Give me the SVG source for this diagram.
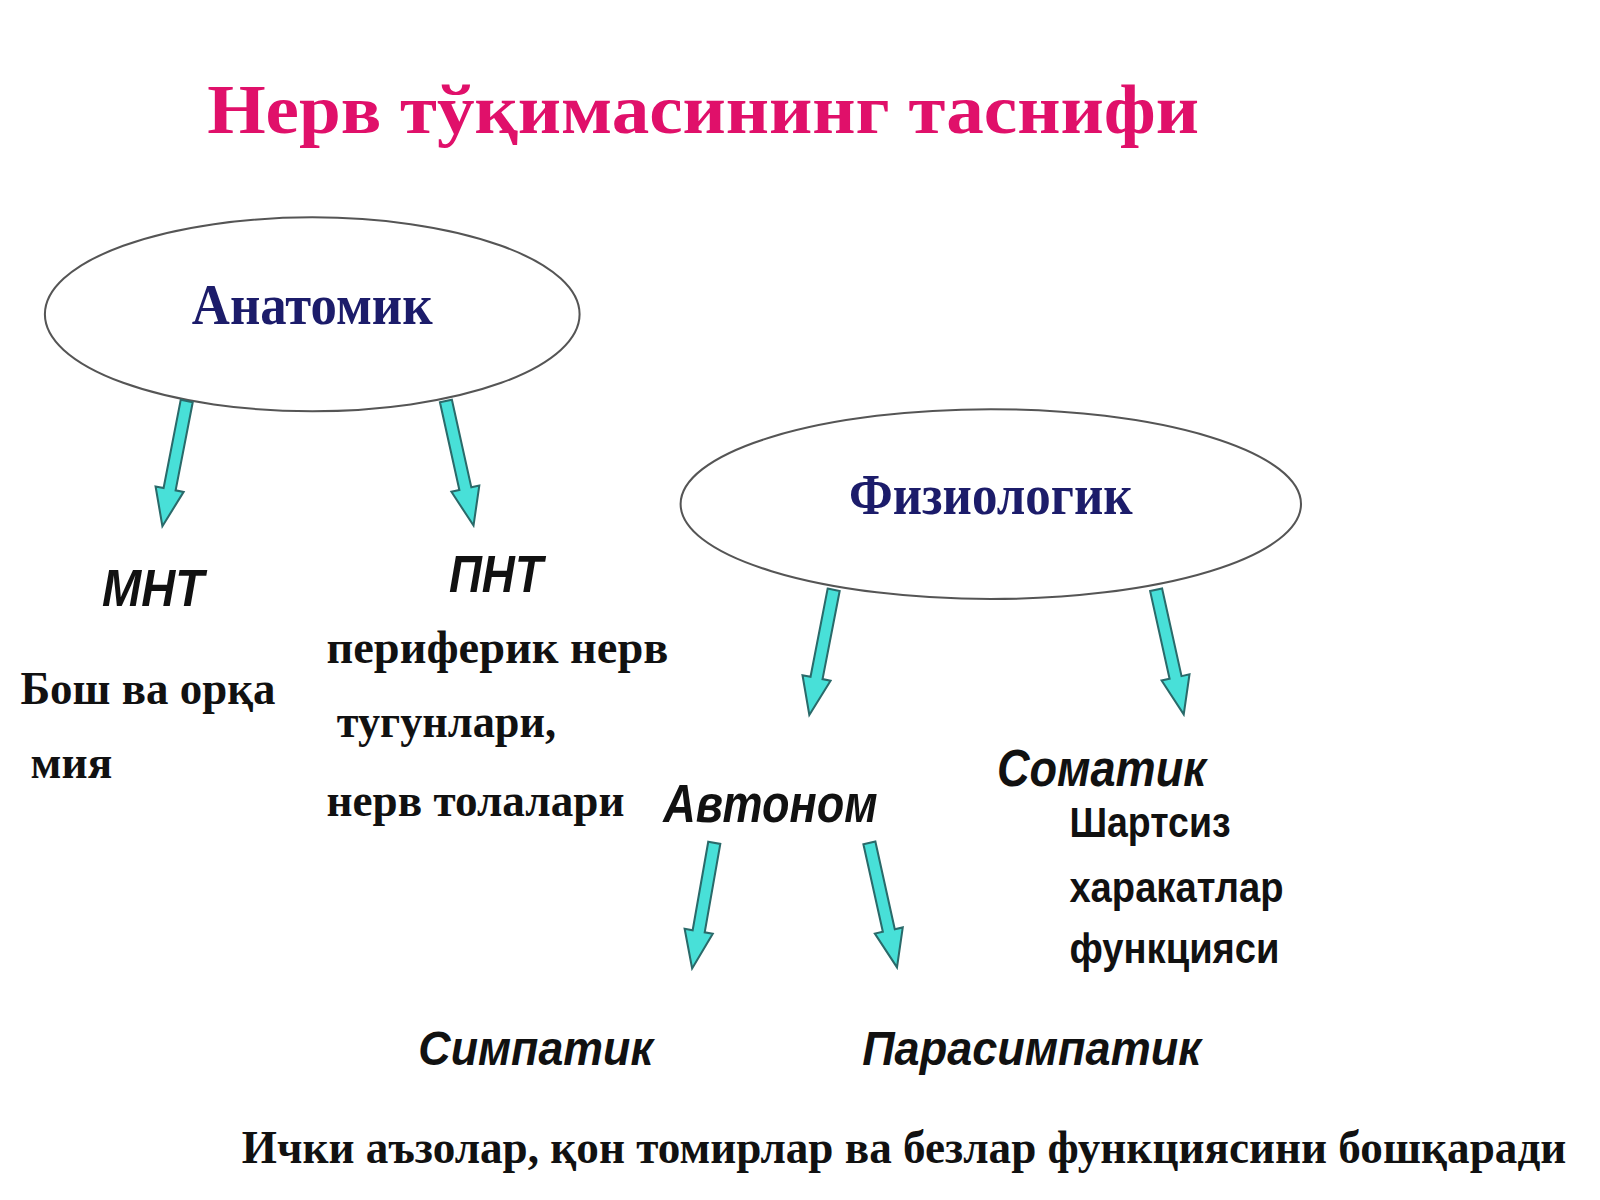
<svg xmlns="http://www.w3.org/2000/svg" width="1600" height="1200" viewBox="0 0 1600 1200">
<style>
.ser{font-family:"Liberation Serif","DejaVu Serif",serif;font-weight:bold;fill:#111}
.ital{font-family:"Liberation Sans","DejaVu Sans",sans-serif;font-weight:bold;font-style:italic;fill:#111}
.sans{font-family:"Liberation Sans","DejaVu Sans",sans-serif;font-weight:bold;fill:#111}
.ell{fill:#fff;stroke:#555;stroke-width:2}
.lab{font-family:"Liberation Serif","DejaVu Serif",serif;font-weight:bold;fill:#1c1c6a;font-size:56px}
</style>
<defs>
<path id="arr" d="M-6,0 L6,0 L6,88 L14,88 L0,125 L-14,88 L-6,88 Z" fill="#48e0d8" stroke="#2a6a6a" stroke-width="2"/>
</defs>
<rect width="1600" height="1200" fill="#fff"/>
<g transform="scale(1.0204)">
<text x="203" y="130" font-family="Liberation Serif,serif" font-weight="bold" font-size="68" fill="#e0106a" textLength="972" lengthAdjust="spacingAndGlyphs">Нерв тўқимасининг таснифи</text>
<g id="anatomik"><ellipse class="ell" cx="306" cy="308" rx="262" ry="95"/><text class="lab" x="306" y="318" text-anchor="middle" textLength="236" lengthAdjust="spacingAndGlyphs">Анатомик</text></g>
<g id="fiziologik"><ellipse class="ell" cx="971" cy="494" rx="304" ry="93"/><text class="lab" x="971" y="504" text-anchor="middle" textLength="278" lengthAdjust="spacingAndGlyphs">Физиологик</text></g>
<g id="connectors">
<use href="#arr" transform="translate(183,393) rotate(11)"/>
<use href="#arr" transform="translate(437,393) rotate(-12.5)"/>
<use href="#arr" transform="translate(817,578) rotate(11)"/>
<use href="#arr" transform="translate(1133,578) rotate(-12.5)"/>
<use href="#arr" transform="translate(700,826) rotate(10)"/>
<use href="#arr" transform="translate(852,826) rotate(-12.5)"/>
</g>
<g id="mnt"><text class="ital" x="100" y="594" font-size="50" textLength="100" lengthAdjust="spacingAndGlyphs">МНТ</text>
<text class="ser" x="20" y="690" font-size="46" textLength="250" lengthAdjust="spacingAndGlyphs">Бош ва орқа</text>
<text class="ser" x="30" y="762" font-size="46" textLength="80" lengthAdjust="spacingAndGlyphs">мия</text></g>
<g id="pnt"><text class="ital" x="440" y="580" font-size="50" textLength="92" lengthAdjust="spacingAndGlyphs">ПНТ</text>
<text class="ser" x="320" y="650" font-size="46" textLength="335" lengthAdjust="spacingAndGlyphs">периферик  нерв</text>
<text class="ser" x="330" y="722" font-size="46" textLength="215" lengthAdjust="spacingAndGlyphs">тугунлари,</text>
<text class="ser" x="320" y="800" font-size="46" textLength="292" lengthAdjust="spacingAndGlyphs">нерв толалари</text></g>
<g id="avtonom"><text class="ital" x="650" y="806" font-size="52" textLength="210" lengthAdjust="spacingAndGlyphs">Автоном</text></g>
<g id="somatik"><text class="ital" x="977" y="770" font-size="50" textLength="205" lengthAdjust="spacingAndGlyphs">Соматик</text>
<text class="sans" x="1048" y="820" font-size="42" textLength="158" lengthAdjust="spacingAndGlyphs">Шартсиз</text>
<text class="sans" x="1048" y="884" font-size="42" textLength="210" lengthAdjust="spacingAndGlyphs">харакатлар</text>
<text class="sans" x="1048" y="944" font-size="42" textLength="206" lengthAdjust="spacingAndGlyphs">функцияси</text></g>
<g id="simpatik"><text class="ital" x="410" y="1044" font-size="48" textLength="230" lengthAdjust="spacingAndGlyphs">Симпатик</text></g>
<g id="parasimpatik"><text class="ital" x="845" y="1044" font-size="48" textLength="332" lengthAdjust="spacingAndGlyphs">Парасимпатик</text></g>
<text class="ser" x="237" y="1140" font-size="46" textLength="1298" lengthAdjust="spacingAndGlyphs">Ички аъзолар, қон томирлар ва безлар функциясини  бошқаради</text>
</g>
</svg>
